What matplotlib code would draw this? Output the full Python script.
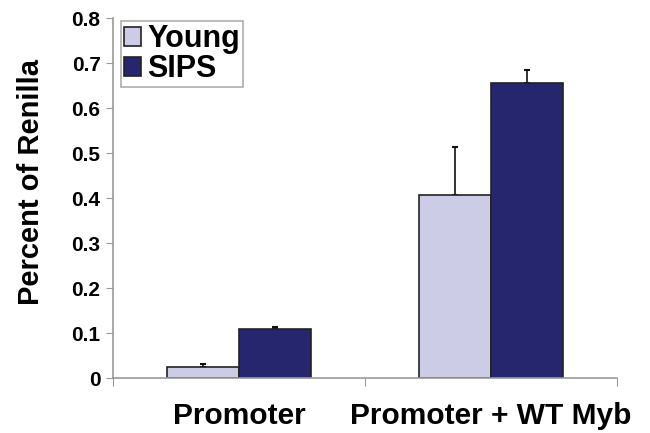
import matplotlib.pyplot as plt
import numpy as np

plt.rcParams['font.family'] = ['Liberation Sans', 'DejaVu Sans']
plt.rcParams['font.weight'] = 'bold'

categories = ["Promoter", "Promoter + WT Myb"]
series = ["Young", "SIPS"]
young = [0.024, 0.407]
sips = [0.109, 0.656]
young_err = [0.008, 0.106]
sips_err = [0.004, 0.028]

colors = ["#CCCCE6", "#26266E"]
grey = "#9A9A9A"

fig = plt.figure(figsize=(6.5, 4.33), dpi=100)
ax = fig.add_axes([0.174, 0.127, 0.775, 0.831])

x = np.arange(len(categories))
w = 0.286
for i, (vals, errs) in enumerate([(young, young_err), (sips, sips_err)]):
    ax.bar(x + (i - 0.5) * w, vals, w, color=colors[i], edgecolor="#222222",
           linewidth=1.2, label=series[i], zorder=2)
    ax.errorbar(x + (i - 0.5) * w, vals, yerr=[np.zeros(len(errs)), errs],
                fmt="none", ecolor="#111111", elinewidth=1.2, capsize=2,
                capthick=1.5, zorder=1)

ax.set_xlim(-0.5, 1.5)
ax.set_ylim(0, 0.8)
ax.set_yticks(np.arange(0, 0.81, 0.1))
ax.set_yticklabels(["0"] + ["%.1f" % v for v in np.arange(0.1, 0.81, 0.1)])
ax.set_xticks([-0.5, 0.5, 1.5])
ax.set_xticklabels([])
ax.set_xticks(x, minor=True)
ax.set_xticklabels(categories, minor=True, fontsize=21.5, fontweight="bold")
ax.tick_params(axis="x", which="minor", length=0, pad=17)
ax.tick_params(axis="x", which="major", length=6, color=grey, direction="out")
ax.tick_params(axis="y", length=5, color=grey, labelsize=15, pad=4)
for s in ["top", "right"]:
    ax.spines[s].set_visible(False)
for s in ["left", "bottom"]:
    ax.spines[s].set_color(grey)
    ax.spines[s].set_linewidth(1.2)

ax.set_ylabel("Percent of Renilla", fontsize=21, fontweight="bold")
ax.yaxis.set_label_coords(-0.135, 0.544)

leg = ax.legend(loc="upper left", bbox_to_anchor=(0.01, 1.0),
                handlelength=0.55, handleheight=0.55, handletextpad=0.2,
                borderpad=0.1, labelspacing=0.0, fancybox=False,
                borderaxespad=0.1, edgecolor=grey, prop={"weight": "bold", "size": 22})
leg.get_frame().set_linewidth(1.2)

fig.savefig("out.png", dpi=100)
